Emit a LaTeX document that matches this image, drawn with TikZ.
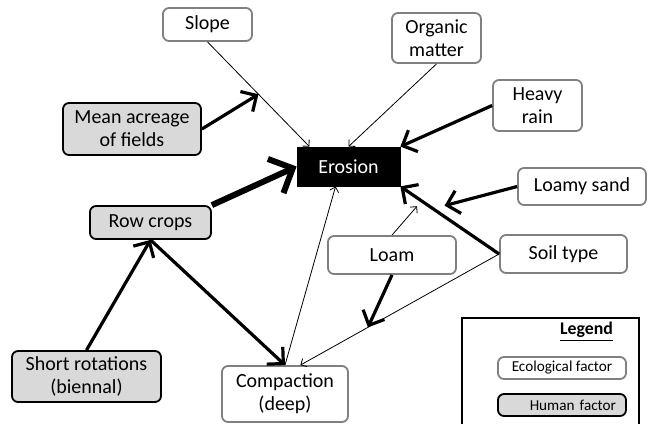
\documentclass[tikz,border=0pt]{standalone}
\usepackage{fontspec}
\setmainfont{Carlito}
\usetikzlibrary{arrows.meta}

\tikzset{
  eco/.style={draw=gray, line width=0.9pt, rounded corners=3pt, fill=white, align=center, inner sep=1pt, font=\fontsize{10}{11.5}\selectfont},
  human/.style={eco, draw=black, fill=black!15},
  weak/.style={-{Straight Barb}, line width=0.4pt},
  strong/.style={-{Straight Barb[scale=1.25]}, line width=1.6pt},
}

\begin{document}
\begin{tikzpicture}[x=0.5pt, y=-0.5pt]
  \useasboundingbox (0,0) rectangle (648,424);
  \node[eco, minimum width=44.5pt, minimum height=16.5pt] (slope) at (207.5,24.5) {Slope};
  \node[eco, minimum width=44.5pt, minimum height=25pt] (organic) at (436.5,38) {Organic\\matter};
  \node[eco, minimum width=44.5pt, minimum height=25.5pt] (heavy) at (537.5,105.5) {Heavy\\rain};
  \node[draw=black, fill=black, text=white, minimum width=51.5pt, minimum height=19.5pt, font=\fontsize{10}{11.5}\selectfont] (erosion) at (348.5,166.5) {Erosion};
  \node[eco, minimum width=64pt, minimum height=18.5pt] (loamysand) at (582,186.5) {Loamy sand};
  \node[human, minimum width=69pt, minimum height=26pt] (acreage) at (132,129) {Mean acreage\\of fields};
  \node[human, minimum width=60.5pt, minimum height=16.5pt] (rowcrops) at (150.5,222.5) {Row crops};
  \node[human, minimum width=74.5pt, minimum height=25.5pt] (shortrot) at (86.5,376.5) {Short rotations\\(biennal)};
  \node[eco, minimum width=63pt, minimum height=28pt] (compaction) at (285,394) {Compaction\\(deep)};
  \node[eco, minimum width=64pt, minimum height=19pt] (loam) at (392,255) {Loam};
  \node[eco, minimum width=63.5pt, minimum height=19pt] (soiltype) at (563.5,254) {Soil type};

  \draw[weak] (slope.south) -- coordinate[pos=0.5] (slopemid) (erosion.153);
  \draw[strong] (acreage.east) -- (slopemid);
  \draw[weak] (organic.south) -- (erosion.north);
  \draw[strong] (heavy.west) -- (erosion.north east);
  \draw[strong, line width=3pt] (rowcrops.north east) -- (erosion.west);
  \draw[strong] (soiltype.west) -- coordinate[pos=0.67] (soilmid) coordinate[pos=0.785] (soilloam) (erosion.south east);
  \draw[strong, shorten >=6pt] (loamysand.west) -- (soilmid);
  \draw[weak, shorten >=3.5pt] (loam.north) -- (soilloam);
  \draw[weak] (soiltype.west) -- coordinate[pos=0.66] (compmid) (compaction.62);
  \draw[strong] (loam.south) -- (compmid);
  \draw[weak] (compaction.north) -- (erosion.237);
  \draw[strong] (rowcrops.south) -- (compaction.north);
  \draw[strong] (shortrot.north) -- (rowcrops.south);

  % legend
  \draw[line width=0.6pt] (462,424) |- (639,318) -- (639,424);
  \node[anchor=east, font=\fontsize{8.9}{10}\selectfont\bfseries] (legend) at (620,332) {\underline{Legend}};
  \node[eco, minimum width=64pt, minimum height=11pt, font=\fontsize{7.6}{9}\selectfont] (ecokey) at (562,368) {Ecological factor};
  \node[human, minimum width=64pt, minimum height=11pt, text width=54pt, inner xsep=5pt, align=right, font=\fontsize{7.6}{9}\selectfont] (humankey) at (562,405) {Human factor};
\end{tikzpicture}
\end{document}
